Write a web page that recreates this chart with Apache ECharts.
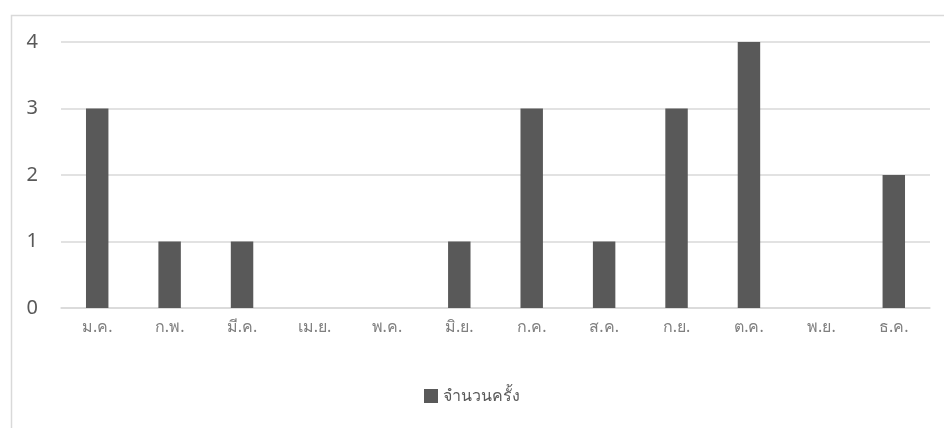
<!DOCTYPE html>
<html><head><meta charset="utf-8">
<script src="https://cdn.jsdelivr.net/npm/echarts@6/dist/echarts.min.js"></script>
<style>html,body{margin:0;padding:0;background:#fff}#c{width:944px;height:428px}</style>
</head><body><div id="c"></div>
<script>
const categories = ['ม.ค.','ก.พ.','มี.ค.','เม.ย.','พ.ค.','มิ.ย.','ก.ค.','ส.ค.','ก.ย.','ต.ค.','พ.ย.','ธ.ค.'];
const values = [3,1,1,0,0,1,3,1,3,4,0,2];
const seriesName = 'จำนวนครั้ง';
const yTicks = [0,1,2,3,4];

const chart = echarts.init(document.getElementById('c'), null, {renderer:'canvas'});
chart.setOption({
  animation:false,
  backgroundColor:'#fff',
  graphic:[{type:'rect',left:9,top:13,z:-1,shape:{width:1000,height:500},style:{fill:'none',stroke:'#d9d9d9',lineWidth:1.5}}],
  grid:{left:61,right:14,top:42,bottom:120,containLabel:false},
  legend:{bottom:19,left:'center',itemWidth:14,itemHeight:14,itemGap:6,icon:'rect',
    textStyle:{fontFamily:'"Noto Sans", sans-serif',fontSize:16,color:'#595959'},data:[seriesName]},
  xAxis:{type:'category',data:categories,
    axisLine:{show:true,lineStyle:{color:'#d9d9d9',width:1.5}},axisTick:{show:false},
    axisLabel:{margin:11,fontSize:16,color:'#808080',fontFamily:'"Noto Sans", sans-serif'}},
  yAxis:{type:'value',min:yTicks[0],max:yTicks[yTicks.length-1],interval:1,
    axisLine:{show:false},axisTick:{show:false},
    splitLine:{lineStyle:{color:'#d9d9d9',width:1.5}},
    axisLabel:{margin:23,fontSize:20,color:'#595959',fontFamily:'"Noto Sans", sans-serif'}},
  series:[{name:seriesName,type:'bar',data:values,barWidth:'31%',itemStyle:{color:'#595959'}}]
});
</script></body></html>
